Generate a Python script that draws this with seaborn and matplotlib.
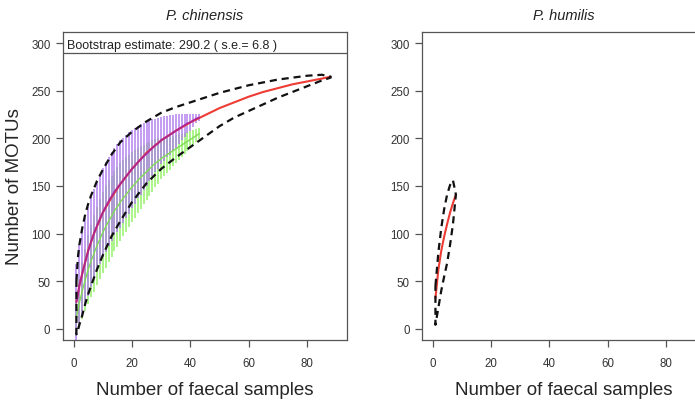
import numpy as np
import pandas as pd
import matplotlib
matplotlib.use("Agg")
import matplotlib.pyplot as plt
import seaborn as sns

# ---- P. chinensis : accumulation with bars (1..43 samples) ----
samples = list(range(1, 44))
purple_mean = [28, 45, 58, 70, 81, 91, 100, 108, 115, 122, 128, 134, 139, 144, 148,
               152, 156, 160, 164, 168, 171, 175, 178, 181, 184, 187, 190, 193, 195,
               198, 200, 202, 204, 206, 208, 210, 212, 214, 216, 217, 219, 221, 222]
purple_sd = [40, 43, 45, 46, 47, 47, 47, 47, 47, 47, 47, 47, 47, 46, 46, 46, 45, 44,
             43, 41, 40, 38, 37, 35, 34, 32, 30, 28, 27, 25, 24, 22, 21, 19, 18, 16,
             14, 12, 10, 9, 7, 5, 4]
green_mean = [12, 27, 40, 51, 62, 71, 79, 87, 94, 101, 107, 113, 118, 124, 128, 133,
              137, 141, 145, 149, 152, 156, 159, 162, 165, 168, 171, 174, 176, 179,
              181, 183, 185, 187, 189, 191, 193, 195, 197, 199, 201, 203, 205]
green_sd = [20, 25, 30, 33, 36, 38, 40, 41, 42, 43, 43, 43, 43, 42, 42, 41, 40, 39,
            38, 37, 36, 34, 33, 31, 30, 28, 27, 25, 24, 22, 21, 19, 18, 16, 15, 14,
            12, 11, 10, 9, 8, 7, 6]

# extrapolated curve and its interval
chin_x = [1, 2, 3, 5, 7, 10, 13, 16, 20, 25, 30, 35, 40, 44, 50, 55, 60, 65, 70,
          75, 80, 85, 88]
chin_est = [28, 45, 58, 82, 100, 122, 138, 152, 168, 185, 198, 208, 217, 223, 232,
            238, 244, 249, 253, 257, 260, 263, 265]
ci_x = [1, 1.5, 2, 3, 4, 5, 6, 8, 10, 13, 16, 20, 25, 30, 35, 40, 45, 50, 55, 60,
        65, 70, 75, 80, 85, 88]
chin_upper = [50, 75, 88, 106, 120, 131, 140, 155, 167, 183, 196, 207, 218, 227, 233,
              238, 243, 248, 252, 256, 259, 262, 264, 266, 267, 265]
chin_lower = [-6, -2, 4, 14, 26, 36, 45, 62, 77, 97, 113, 133, 153, 168, 180, 191,
              202, 213, 222, 229, 236, 243, 249, 255, 261, 264]
boot_est = 290.2
boot_se = 6.8

# ---- P. humilis ----
hum_x = [1, 2, 3, 4, 5, 6, 7, 8]
hum_est = [32, 62, 82, 97, 110, 122, 132, 141]
hum_upper = [45, 80, 106, 126, 141, 151, 156, 141]
hum_lower = [4, 22, 40, 55, 69, 88, 110, 141]

titles = ["P. chinensis", "P. humilis"]
xticks = [0, 20, 40, 60, 80]
yticks = [0, 50, 100, 150, 200, 250, 300]

sns.set_style("white")
plt.rcParams['font.family'] = ['Liberation Sans', 'DejaVu Sans']

EDGE = '#555555'
RED = '#EE3B34'


def style_axes(ax, title):
    ax.set_xlim(-3.6, 93.6)
    ax.set_ylim(-12, 312)
    ax.set_xticks(xticks)
    ax.set_yticks(yticks)
    for s in ax.spines.values():
        s.set_color(EDGE)
        s.set_linewidth(0.9)
        s.set_visible(True)
    ax.tick_params(bottom=True, left=True, direction='out', length=5, width=0.9,
                   color=EDGE, labelsize=8.3, labelcolor='#333333')
    ax.tick_params(axis='x', pad=7)
    ax.tick_params(axis='y', pad=4)
    ax.set_title(title, style='italic', fontsize=10.5, color='#222222', pad=9)
    ax.set_xlabel('Number of faecal samples', fontsize=13.5, labelpad=9)


def closed_loop(xs, upper, lower):
    px = list(xs) + list(xs)[::-1] + [xs[0]]
    py = list(upper) + list(lower)[::-1] + [upper[0]]
    return px, py


fig = plt.figure(figsize=(6.95, 4.02), dpi=100)
ax1 = fig.add_axes([63 / 695, 1 - 341 / 402, 284 / 695, 308 / 402])
ax2 = fig.add_axes([422 / 695, 1 - 341 / 402, 284 / 695, 308 / 402])

# left panel
pm = np.array(purple_mean)
ps = np.array(purple_sd)
gm = np.array(green_mean)
gs = np.array(green_sd)
ax1.vlines(samples, gm - gs, gm + gs, color='#9EF276', lw=1.2, zorder=1)
ax1.vlines(samples, pm - ps, pm + ps, color='#AC78EE', lw=1.2, alpha=0.85, zorder=2)
sns.lineplot(x=samples, y=green_mean, ax=ax1, color='#7FDB55', lw=1.0,
             estimator=None, sort=False, zorder=3)
sns.lineplot(x=chin_x, y=chin_est, ax=ax1, color=RED, lw=1.5,
             estimator=None, sort=False, zorder=4)
sns.lineplot(x=samples, y=purple_mean, ax=ax1, color='#A01FA8', lw=1.3, alpha=0.8,
             estimator=None, sort=False, zorder=5)
lx, ly = closed_loop(ci_x, chin_upper, chin_lower)
ax1.plot(lx, ly, color='#111111', lw=1.6, ls=(0, (3.2, 2.2)), zorder=6)
ax1.axhline(boot_est, color=EDGE, lw=0.9, zorder=7)
ax1.text(-2.2, boot_est + 1.5, f"Bootstrap estimate: {boot_est} ( s.e.= {boot_se} )",
         fontsize=9, color='#222222', ha='left', va='bottom')
style_axes(ax1, titles[0])
ax1.set_ylabel('Number of MOTUs', fontsize=13.5, labelpad=6)

# right panel
sns.lineplot(x=hum_x, y=hum_est, ax=ax2, color=RED, lw=1.5,
             estimator=None, sort=False, zorder=4)
hx, hy = closed_loop(hum_x, hum_upper, hum_lower)
ax2.plot(hx, hy, color='#111111', lw=1.6, ls=(0, (3.2, 2.2)), zorder=6)
style_axes(ax2, titles[1])

fig.savefig('out.png', dpi=100)
